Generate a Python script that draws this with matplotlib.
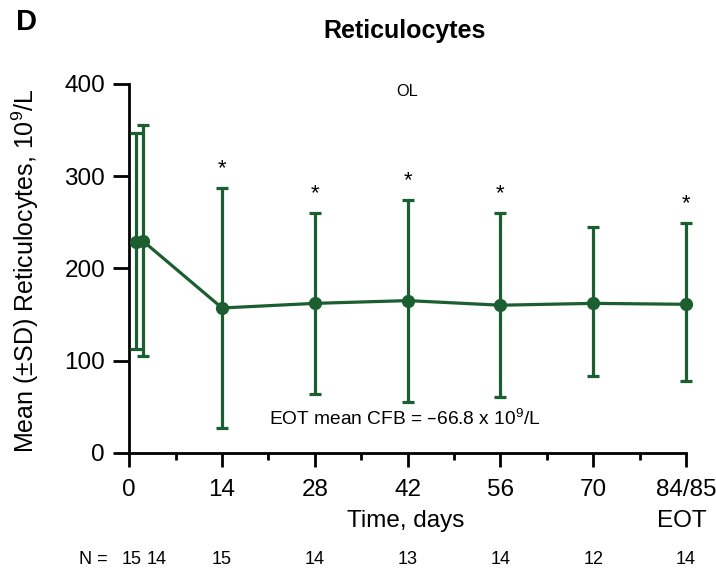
import matplotlib
matplotlib.use("Agg")
import matplotlib.pyplot as plt
from matplotlib.ticker import MultipleLocator
import matplotlib.transforms as mtrans
import numpy as np

plt.rcParams["font.family"] = ["Liberation Sans", "DejaVu Sans"]
plt.rcParams["mathtext.default"] = "regular"

# data
days = [1, 2, 14, 28, 42, 56, 70, 84]
mean = [229, 230, 157, 162, 165, 160, 162, 161]
sd_low = [112, 105, 27, 64, 55, 60, 83, 78]
sd_high = [347, 355, 287, 260, 274, 260, 245, 249]
signif = [False, False, True, True, True, True, False, True]
n_counts = ["15", "14", "15", "14", "13", "14", "12", "14"]
n_xpos = [0.3, 4.1, 14, 28, 42, 56, 70, 84]
xtick_vals = [0, 14, 28, 42, 56, 70, 84]
xtick_labels = ["0", "14", "28", "42", "56", "70", "84/85"]

green = "#1b5e2f"

fig = plt.figure(figsize=(7.16, 5.69), dpi=100)
ax = fig.add_axes([0.1806, 0.2044, 0.7774, 0.648])

mean_a = np.array(mean)
yerr = [mean_a - np.array(sd_low), np.array(sd_high) - mean_a]
ax.errorbar(days, mean, yerr=yerr, color=green, lw=2.3, marker="o", ms=8.5,
            elinewidth=2.3, capsize=4.5, capthick=2.3, clip_on=False, zorder=3)

for d, hi, s in zip(days, sd_high, signif):
    if s:
        ax.text(d, hi + 10, "*", ha="center", va="bottom", fontsize=16)

ax.set_xlim(0, 84)
ax.set_ylim(0, 400)
ax.set_xticks(xtick_vals)
ax.set_xticklabels(xtick_labels)
ax.xaxis.set_minor_locator(MultipleLocator(7))
ax.set_yticks([0, 100, 200, 300, 400])
ax.tick_params(axis="both", which="major", width=2, labelsize=17.5, direction="out")
ax.tick_params(axis="x", which="major", length=10, pad=9)
ax.tick_params(axis="y", which="major", length=11.5, pad=6)
ax.tick_params(axis="x", which="minor", length=5, width=2)
for side in ["top", "right"]:
    ax.spines[side].set_visible(False)
for side in ["left", "bottom"]:
    ax.spines[side].set_linewidth(2)

fig.text(406 / 716, 1 - 521 / 569, "Time, days", ha="center", va="center", fontsize=17.5)
fig.text(682 / 716, 1 - 521 / 569, "EOT", ha="center", va="center", fontsize=17.5)
fig.text(25 / 716, 1 - 271 / 569, "Mean (±SD) Reticulocytes, 10$^9$/L",
         rotation=90, ha="center", va="center", fontsize=18)

ax.text(41.5, 37, "EOT mean CFB = –66.8 x 10$^9$/L", ha="center", va="center", fontsize=13.8)
ax.text(42, 392, "OL", ha="center", va="center", fontsize=11.7)

fig.text(405 / 716, 1 - 31 / 569, "Reticulocytes", ha="center", va="center",
         fontsize=18, fontweight="bold")
fig.text(26 / 716, 1 - 22 / 569, "D", ha="center", va="center", fontsize=21, fontweight="bold")

blend = mtrans.blended_transform_factory(ax.transData, fig.transFigure)
fig.text(79 / 716, 1 - 560 / 569, "N =", ha="left", va="center", fontsize=13)
for x, n in zip(n_xpos, n_counts):
    ax.text(x, 1 - 560 / 569, n, transform=blend, ha="center", va="center", fontsize=13)

fig.savefig("out.png", dpi=100)
